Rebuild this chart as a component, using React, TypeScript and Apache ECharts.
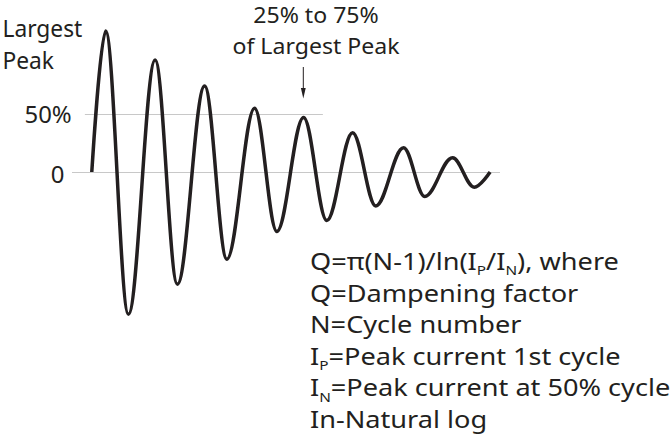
import { useEffect, useRef } from "react";
import * as echarts from "echarts";

// Ring-down current: time in cycles, current in % of the 50% reference scale
const cycleTime = [0, 0.28, 0.74, 1.28, 1.73, 2.28, 2.73, 3.29, 3.74, 4.28, 4.75, 5.27, 5.74, 6.3, 6.73, 7.29, 7.73, 8.05];
const current = [0, 122.6, -123.7, 97.4, -97.6, 74.8, -75.8, 55.5, -51.7, 47.5, -42.2, 34.2, -29.5, 21.1, -21.3, 12.4, -13.2, 0];

// Reference levels and the span (in cycles) of each guide line
const levelValues = [50, 0];
const levelLabels = ["50%", "0"];
const levelSpans = [
  [-0.14, 4.67],
  [-0.4, 8.25],
];

const yTitle = ["Largest", "Peak"];
const peakNote = ["25% to 75%", "of Largest Peak"];
const notes = [
  "Q=π(N-1)/ln(I{s|P}/I{s|N}), where",
  "Q=Dampening factor",
  "N=Cycle number",
  "I{s|P}=Peak current 1st cycle",
  "I{s|N}=Peak current at 50% cycle",
  "In-Natural log",
];

const INK = "#231f20";
const FONT = "'Noto Sans', sans-serif";

export default function App() {
  const ref = useRef<HTMLDivElement>(null);

  useEffect(() => {
    if (!ref.current) return;
    const chart = echarts.init(ref.current, undefined, { renderer: "svg" });

    const textStyle = (extra: Record<string, unknown>) => ({
      fill: INK,
      fontFamily: FONT,
      fontSize: 23,
      ...extra,
    });

    chart.setOption({
      animation: false,
      grid: { left: 72, right: 170, top: 11, bottom: 110, containLabel: false },
      xAxis: { type: "value", min: -0.4, max: 8.25, show: false },
      yAxis: { type: "value", min: -140, max: 140, show: false },
      series: [
        {
          type: "line",
          data: cycleTime.map((t, i) => [t, current[i]]),
          showSymbol: false,
          smooth: 0.36,
          smoothMonotone: "x",
          lineStyle: { color: INK, width: 3.5 },
          z: 3,
          silent: true,
          markLine: {
            silent: true,
            z: 1,
            symbol: ["none", "none"],
            label: { show: false },
            lineStyle: { color: "#c8c8c8", width: 1, type: "solid" },
            data: levelValues.map((v, i) => [
              { coord: [levelSpans[i][0], v] },
              { coord: [levelSpans[i][1], v] },
            ]),
          },
        },
      ],
      graphic: [
        {
          type: "text",
          x: 2.5,
          y: 12,
          scaleX: 0.99,
          style: textStyle({ text: yTitle.join("\n"), lineHeight: 32, verticalAlign: "top" }),
        },
        {
          type: "text",
          x: 71.7,
          y: 114,
          scaleX: 1.04,
          style: textStyle({ text: levelLabels[0], align: "right", verticalAlign: "middle" }),
        },
        {
          type: "text",
          x: 64.5,
          y: 174,
          scaleX: 1.04,
          style: textStyle({ text: levelLabels[1], align: "right", verticalAlign: "middle" }),
        },
        {
          type: "text",
          x: 316,
          y: -1,
          scaleX: 1.05,
          style: textStyle({
            text: peakNote.join("\n"),
            fontSize: 22,
            lineHeight: 31,
            align: "center",
            verticalAlign: "top",
          }),
        },
        {
          type: "line",
          shape: { x1: 303.3, y1: 67, x2: 303.3, y2: 90 },
          style: { stroke: INK, lineWidth: 1 },
        },
        {
          type: "polygon",
          shape: { points: [[300.9, 88], [305.7, 88], [303.3, 98.5]] },
          style: { fill: INK },
        },
        {
          type: "text",
          x: 310,
          y: 245,
          scaleX: 1.18,
          style: textStyle({
            text: notes.join("\n"),
            lineHeight: 31.6,
            verticalAlign: "top",
            rich: {
              s: { fill: INK, fontFamily: FONT, fontSize: 13, lineHeight: 26, verticalAlign: "bottom" },
            },
          }),
        },
      ],
    });

    return () => chart.dispose();
  }, []);

  return (
    <div
      ref={ref}
      style={{ position: "fixed", left: 0, top: 0, width: 670, height: 443, background: "#fff" }}
    />
  );
}
